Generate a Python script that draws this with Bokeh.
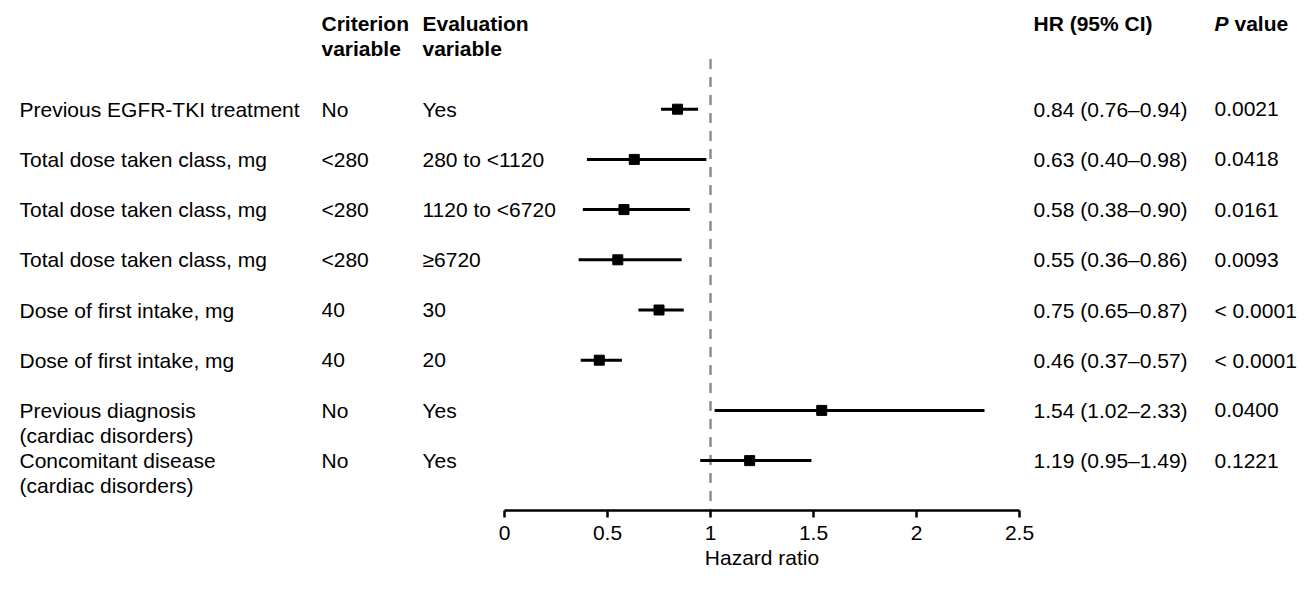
from bokeh.plotting import figure
from bokeh.models import Range1d, FixedTicker
from bokeh.core.properties import value
from bokeh.embed import file_html
from bokeh.resources import INLINE

# ---------------- data ----------------
labels = [
    "Previous EGFR-TKI treatment",
    "Total dose taken class, mg",
    "Total dose taken class, mg",
    "Total dose taken class, mg",
    "Dose of first intake, mg",
    "Dose of first intake, mg",
    "Previous diagnosis\n(cardiac disorders)",
    "Concomitant disease\n(cardiac disorders)",
]
criterion = ["No", "<280", "<280", "<280", "40", "40", "No", "No"]
evaluation = ["Yes", "280 to <1120", "1120 to <6720", "\u22656720", "30", "20", "Yes", "Yes"]
hr = [0.84, 0.63, 0.58, 0.55, 0.75, 0.46, 1.54, 1.19]
ci_low = [0.76, 0.40, 0.38, 0.36, 0.65, 0.37, 1.02, 0.95]
ci_high = [0.94, 0.98, 0.90, 0.86, 0.87, 0.57, 2.33, 1.49]
p_values = ["0.0021", "0.0418", "0.0161", "0.0093", "< 0.0001", "< 0.0001", "0.0400", "0.1221"]
ticks = [0, 0.5, 1, 1.5, 2, 2.5]
tick_labels = ["0", "0.5", "1", "1.5", "2", "2.5"]
reference_hr = 1
axis_title = "Hazard ratio"

# ---------------- layout helpers ----------------
W, H = 1298, 573            # canvas (= frame) size in px
X0PX, XUNIT = 504, 206      # px of HR=0, px per HR unit
ROW0, ROWH = 58.5, 50.2     # px of row index 0, px per row
LINE = 25                   # px between text lines


def xpx(cx):
    return (cx - X0PX) / XUNIT


def ypx(cy):
    return (cy - ROW0) / ROWH


FONT = value("Liberation Sans")
FS = "21px"

n = len(hr)
rows = list(range(1, n + 1))
axis_row = n + 1

p = figure(
    width=W, height=H,
    x_range=Range1d(xpx(0), xpx(W)),
    y_range=Range1d(ypx(H), ypx(0)),
    output_backend="svg", toolbar_location=None,
    y_axis_location=None,
    min_border_left=0, min_border_right=0, min_border_top=0, min_border_bottom=0,
    outline_line_color=None,
)
p.xgrid.visible = False
p.ygrid.visible = False

ax = p.xaxis[0]
ax.fixed_location = axis_row
ax.bounds = (ticks[0], ticks[-1])
ax.ticker = FixedTicker(ticks=ticks)
ax.major_label_overrides = {t: l for t, l in zip(ticks, tick_labels)}
ax.axis_line_width = 2.5
ax.axis_line_color = "black"
ax.major_tick_line_width = 2.5
ax.major_tick_line_color = "black"
ax.major_tick_out = 7
ax.major_tick_in = 0
ax.minor_tick_out = 0
ax.minor_tick_in = 0
ax.major_label_standoff = 8
ax.major_label_text_font = "Liberation Sans"
ax.major_label_text_font_size = FS
ax.major_label_text_color = "black"

# reference line
p.segment(x0=[reference_hr], y0=[0], x1=[reference_hr], y1=[axis_row],
          line_color="#8c8c8c", line_width=2.5, line_dash="10 8")

# whiskers & points
p.segment(x0=ci_low, y0=rows, x1=ci_high, y1=rows, line_color="black", line_width=3)
p.scatter(x=hr, y=rows, marker="square", size=10, fill_color="black", line_color="black")

# text columns
lx, ly, lt = [], [], []
for r, lab in zip(rows, labels):
    for i, line in enumerate(lab.split("\n")):
        lx.append(xpx(19))
        ly.append(r + i * LINE / ROWH)
        lt.append(line)

common = dict(text_font=FONT, text_font_size=FS, text_baseline="middle",
              text_align="left", text_color="black")
CCOL, ECOL, HCOL, PCOL = 321, 422, 1033, 1214
p.text(x=lx, y=ly, text=lt, **common)
p.text(x=[xpx(CCOL)] * n, y=rows, text=criterion, **common)
p.text(x=[xpx(ECOL)] * n, y=rows, text=evaluation, **common)
hr_text = [f"{h:.2f} ({l:.2f}\u2013{u:.2f})" for h, l, u in zip(hr, ci_low, ci_high)]
p.text(x=[xpx(HCOL)] * n, y=rows, text=hr_text, **common)
p.text(x=[xpx(PCOL)] * n, y=rows, text=p_values, **common)

# headers
bold = dict(common, text_font_style="bold")
h1, h2 = ypx(23), ypx(23 + LINE)
p.text(x=[xpx(CCOL), xpx(CCOL)], y=[h1, h2], text=["Criterion", "variable"], **bold)
p.text(x=[xpx(ECOL), xpx(ECOL)], y=[h1, h2], text=["Evaluation", "variable"], **bold)
p.text(x=[xpx(HCOL)], y=[h1], text=["HR (95% CI)"], **bold)
p.text(x=[xpx(PCOL)], y=[h1], text=["P"], **dict(common, text_font_style="bold italic"))
p.text(x=[xpx(PCOL + 20)], y=[h1], text=["value"], **bold)

# axis title, centred on the axis extent
p.text(x=[(ticks[0] + ticks[-1]) / 2], y=[ypx(557)], text=[axis_title],
       **dict(common, text_align="center"))

open("out.html", "w").write(file_html(p, INLINE))
